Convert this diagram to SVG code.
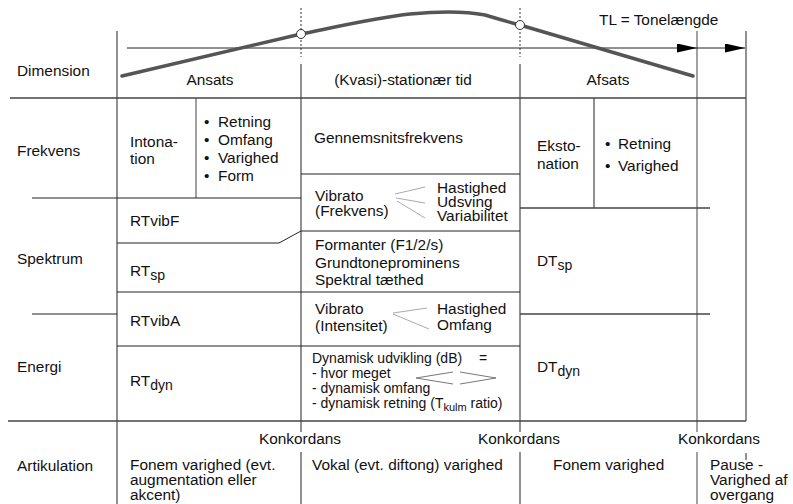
<svg xmlns="http://www.w3.org/2000/svg" width="793" height="504" viewBox="0 0 793 504">
<defs>
<style>
text{font-family:"Liberation Sans",Arial,sans-serif;font-size:15.4px;fill:#111}
.c{text-anchor:middle}
.ln{stroke:#222;stroke-width:1;fill:none}
.hb{stroke:#444;stroke-width:1.5;fill:none}
.gl{stroke:#8a8a8a;stroke-width:1.6;fill:none}
.dot{stroke:#333;stroke-width:1;stroke-dasharray:2,2;fill:none}
.fan{stroke:#aaa;stroke-width:1;fill:none}
.hp{stroke:#777;stroke-width:1;fill:none}
.sm{font-size:14px}
.sub{font-size:14px}
.sub2{font-size:11px}
</style>
<marker id="ah" markerWidth="20" markerHeight="9" refX="20" refY="4.5" orient="auto" markerUnits="userSpaceOnUse"><path d="M0,0 L20,4.5 L0,9 Z" fill="#000"/></marker>
</defs>
<rect width="793" height="504" fill="#fff"/>

<g id="grid">
<line class="ln" x1="117" y1="31" x2="117" y2="504"/>
<line class="dot" x1="301" y1="8" x2="301" y2="57"/>
<line class="dot" x1="520" y1="8" x2="520" y2="57"/>
<line class="ln" x1="301" y1="64" x2="301" y2="432"/>
<line class="ln" x1="301" y1="452" x2="301" y2="504"/>
<line class="ln" x1="520" y1="64" x2="520" y2="432"/>
<line class="ln" x1="520" y1="452" x2="520" y2="504"/>
<line class="gl" x1="697" y1="31" x2="697" y2="432"/>
<line class="gl" x1="697" y1="452" x2="697" y2="504"/>
<line class="ln" x1="746" y1="31" x2="746" y2="421"/>
<line class="ln" x1="746" y1="453" x2="746" y2="460"/>
<line class="gl" x1="196" y1="98" x2="196" y2="198"/>
<line class="ln" x1="594" y1="98" x2="594" y2="208"/>
<line class="hb" x1="10" y1="98" x2="746" y2="98"/>
<line class="hb" x1="8" y1="421" x2="746" y2="421"/>
<line class="ln" x1="32" y1="198" x2="301" y2="198"/>
<line class="ln" x1="301" y1="174" x2="520" y2="174"/>
<line class="ln" x1="301" y1="231" x2="520" y2="231"/>
<polyline class="ln" points="117,243 279,243 301,231"/>
<line class="ln" x1="117" y1="292" x2="520" y2="292"/>
<line class="ln" x1="32" y1="314" x2="117" y2="314"/>
<line class="ln" x1="117" y1="346" x2="520" y2="346"/>
<line class="hb" x1="520" y1="208" x2="710" y2="208"/>
<line class="hb" x1="520" y1="314" x2="710" y2="314"/>
</g>

<g id="timeline">
<line class="ln" x1="127" y1="48" x2="697" y2="48" marker-end="url(#ah)"/>
<line class="ln" x1="697" y1="48" x2="745" y2="48" marker-end="url(#ah)"/>
<path d="M122,76 L301,34 C340,26 380,17 410,14 C440,11 465,11 485,15 C495,18 505,21 520,25 L693,76" stroke="#555" stroke-width="3.5" fill="none" stroke-linecap="round"/>
<circle cx="301" cy="34" r="4.5" fill="#fff" stroke="#333" stroke-width="1"/>
<circle cx="520" cy="25" r="4.5" fill="#fff" stroke="#333" stroke-width="1"/>
<text x="599" y="25">TL = Tonelængde</text>
</g>

<g id="dimension">
<text x="17" y="76">Dimension</text>
<text class="c" x="210" y="85">Ansats</text>
<text class="c" x="403" y="85">(Kvasi)-stationær tid</text>
<text class="c" x="608" y="85">Afsats</text>
</g>

<g id="frekvens">
<text x="17" y="156">Frekvens</text>
<text x="130" y="147">Intona-</text>
<text x="130" y="164">tion</text>
<text x="204" y="127">•<tspan x="218">Retning</tspan></text>
<text x="204" y="145">•<tspan x="218">Omfang</tspan></text>
<text x="204" y="163">•<tspan x="218">Varighed</tspan></text>
<text x="204" y="181">•<tspan x="218">Form</tspan></text>
<text x="314" y="143">Gennemsnitsfrekvens</text>
<text x="315" y="201">Vibrato</text>
<text x="315" y="216">(Frekvens)</text>
<line class="fan" x1="395" y1="194" x2="425" y2="187"/>
<line class="fan" x1="396" y1="198" x2="425" y2="203"/>
<line class="fan" x1="397" y1="201" x2="425" y2="218"/>
<text x="437" y="193">Hastighed</text>
<text x="437" y="207">Udsving</text>
<text x="437" y="221">Variabilitet</text>
<text x="537" y="151">Eksto-</text>
<text x="537" y="169">nation</text>
<text x="605" y="149">•<tspan x="618">Retning</tspan></text>
<text x="605" y="171">•<tspan x="618">Varighed</tspan></text>
</g>

<g id="spektrum">
<text x="17" y="264">Spektrum</text>
<text x="130" y="226">RTvibF</text>
<text x="130" y="276">RT<tspan class="sub" dy="4">sp</tspan></text>
<text x="315" y="250">Formanter (F1/2/s)</text>
<text x="315" y="268">Grundtoneprominens</text>
<text x="315" y="285">Spektral tæthed</text>
<text x="537" y="266">DT<tspan class="sub" dy="4">sp</tspan></text>
</g>

<g id="vibratoA">
<text x="130" y="326">RTvibA</text>
<text x="315" y="314">Vibrato</text>
<text x="315" y="331">(Intensitet)</text>
<line class="fan" x1="393" y1="313" x2="427" y2="308"/>
<line class="fan" x1="393" y1="314" x2="429" y2="329"/>
<text x="437" y="314">Hastighed</text>
<text x="437" y="330">Omfang</text>
</g>

<g id="energi">
<text x="17" y="372">Energi</text>
<text x="130" y="386">RT<tspan class="sub" dy="4">dyn</tspan></text>
<text class="sm" x="312" y="363">Dynamisk udvikling (dB)<tspan x="479">=</tspan></text>
<text class="sm" x="312" y="378">- hvor meget</text>
<text class="sm" x="312" y="393">- dynamisk omfang</text>
<text class="sm" x="312" y="408">- dynamisk retning (T<tspan class="sub2" dy="3">kulm</tspan><tspan dy="-3"> ratio)</tspan></text>
<polyline class="hp" points="453,372 416,378 453,384"/>
<polyline class="hp" points="460,372 496,378 460,384"/>
<text x="537" y="372">DT<tspan class="sub" dy="4">dyn</tspan></text>
</g>

<g id="artikulation">
<text class="c" x="300" y="444">Konkordans</text>
<text class="c" x="519" y="444">Konkordans</text>
<text class="c" x="719" y="444">Konkordans</text>
<text x="17" y="471">Artikulation</text>
<text x="130" y="470">Fonem varighed (evt.</text>
<text x="130" y="485">augmentation eller</text>
<text x="130" y="500">akcent)</text>
<text x="312" y="470">Vokal (evt. diftong) varighed</text>
<text x="553" y="470">Fonem varighed</text>
<text x="710" y="470">Pause -</text>
<text x="710" y="485">Varighed af</text>
<text x="710" y="500">overgang</text>
</g>
</svg>
